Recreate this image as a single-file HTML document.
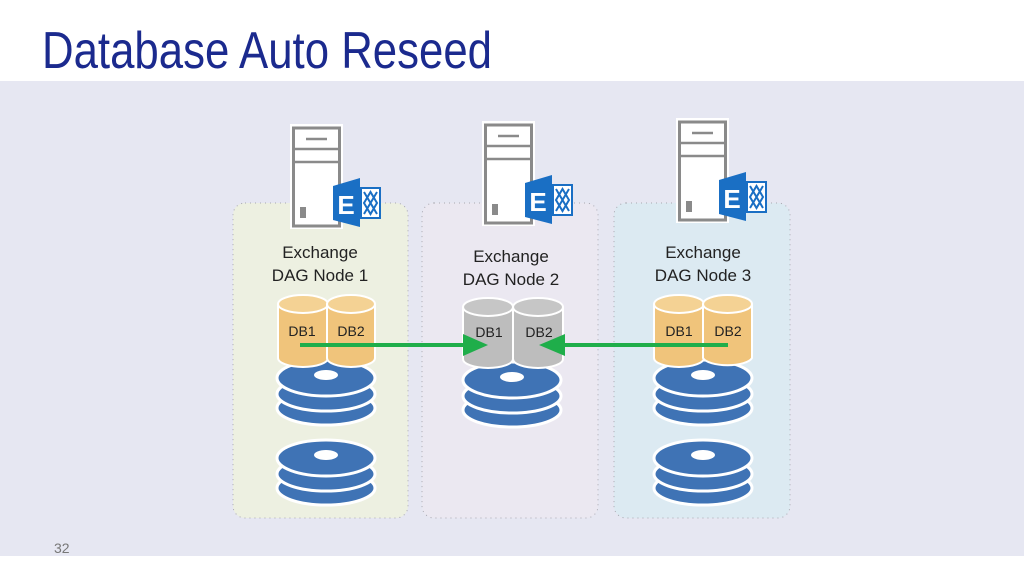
<!DOCTYPE html>
<html><head><meta charset="utf-8"><style>
html,body{margin:0;padding:0;background:#fff;}
svg{display:block;}
text{font-family:"Liberation Sans",sans-serif;}
</style></head><body>
<svg width="1024" height="576" viewBox="0 0 1024 576" xmlns="http://www.w3.org/2000/svg">
<defs>
  <g id="srv">
    <rect x="0" y="0" width="53" height="105" fill="#fff"/>
    <rect x="3.5" y="4" width="46" height="98" fill="#fff" stroke="#8a8a8a" stroke-width="3"/>
    <line x1="3.5" y1="25" x2="49.5" y2="25" stroke="#8a8a8a" stroke-width="2.5"/>
    <line x1="3.5" y1="38" x2="49.5" y2="38" stroke="#8a8a8a" stroke-width="2.5"/>
    <line x1="16" y1="15" x2="37" y2="15" stroke="#8a8a8a" stroke-width="2.5"/>
    <rect x="10" y="83" width="6" height="11" fill="#8a8a8a"/>
    <polygon points="43,62 70,54 70,103 43,96" fill="#1a6fc4"/>
    <text x="56" y="90" font-size="26" font-weight="bold" fill="#fff" text-anchor="middle">E</text>
    <rect x="71" y="64" width="19" height="30" fill="#fff" stroke="#1a6fc4" stroke-width="2"/>
    <path d="M74,68 L87,90 M87,68 L74,90 M74,79 L80.5,68 L87,79 L80.5,90 Z" stroke="#1a6fc4" stroke-width="2" fill="none"/>
  </g>
  <g id="disks">
    <ellipse cx="0" cy="30" rx="49" ry="17" fill="#3f73b5" stroke="#fff" stroke-width="3"/>
    <ellipse cx="0" cy="16" rx="49" ry="17" fill="#3f73b5" stroke="#fff" stroke-width="3"/>
    <ellipse cx="0" cy="0" rx="49" ry="18" fill="#3f73b5" stroke="#fff" stroke-width="3"/>
    <ellipse cx="0" cy="-3" rx="12" ry="5" fill="#fff"/>
  </g>
</defs>
<rect x="0" y="81" width="1024" height="475" fill="#e6e7f2"/>
<text x="42" y="68" font-size="52" fill="#1b2a8e" textLength="450" lengthAdjust="spacingAndGlyphs" style="font-weight:300">Database Auto Reseed</text>
<text x="54" y="553" font-size="14" fill="#777" >32</text>

<rect x="233" y="203" width="175" height="315" rx="12" fill="#edf0e1" stroke="#a8a8b0" stroke-width="1" stroke-dasharray="1,4"/>
<rect x="422" y="203" width="176" height="315" rx="12" fill="#ebe8f1" stroke="#a8a8b0" stroke-width="1" stroke-dasharray="1,4"/>
<rect x="614" y="203" width="176" height="315" rx="12" fill="#dceaf2" stroke="#a8a8b0" stroke-width="1" stroke-dasharray="1,4"/>

<use href="#srv" x="290" y="124"/>
<use href="#srv" x="482" y="121"/>
<use href="#srv" x="676" y="118"/>

<g font-size="17" fill="#222" text-anchor="middle">
<text x="320" y="258">Exchange</text><text x="320" y="281">DAG Node 1</text>
<text x="511" y="262">Exchange</text><text x="511" y="285">DAG Node 2</text>
<text x="703" y="258">Exchange</text><text x="703" y="281">DAG Node 3</text>
</g>

<use href="#disks" x="326" y="378"/>
<use href="#disks" x="512" y="380"/>
<use href="#disks" x="703" y="378"/>
<use href="#disks" x="326" y="458"/>
<use href="#disks" x="703" y="458"/>

<!-- cylinders node1 -->
<g stroke="#fff" stroke-width="2">
<path d="M278,304 v54 a25,9 0 0 0 50,0 v-54" fill="#f0c47b"/><ellipse cx="303" cy="304" rx="25" ry="9" fill="#f4d294"/>
<path d="M327,304 v54 a24,9 0 0 0 48,0 v-54" fill="#f0c47b"/><ellipse cx="351" cy="304" rx="24" ry="9" fill="#f4d294"/>
<path d="M463,307 v52 a25,9 0 0 0 50,0 v-52" fill="#bdbdbd"/><ellipse cx="488" cy="307" rx="25" ry="9" fill="#c6c6c6"/>
<path d="M513,307 v52 a25,9 0 0 0 50,0 v-52" fill="#bdbdbd"/><ellipse cx="538" cy="307" rx="25" ry="9" fill="#c6c6c6"/>
<path d="M654,304 v54 a25,9 0 0 0 50,0 v-54" fill="#f0c47b"/><ellipse cx="679" cy="304" rx="25" ry="9" fill="#f4d294"/>
<path d="M703,304 v54 a25,9 0 0 0 49,0 v-54" fill="#f0c47b"/><ellipse cx="727.5" cy="304" rx="24.5" ry="9" fill="#f4d294"/>
</g>
<g font-size="14" fill="#222" text-anchor="middle">
<text x="302" y="336">DB1</text><text x="351" y="336">DB2</text>
<text x="489" y="337">DB1</text><text x="539" y="337">DB2</text>
<text x="679" y="336">DB1</text><text x="728" y="336">DB2</text>
</g>

<line x1="300" y1="345" x2="468" y2="345" stroke="#1fae4a" stroke-width="4"/>
<polygon points="488,345 463,334 463,356" fill="#1fae4a"/>
<line x1="728" y1="345" x2="560" y2="345" stroke="#1fae4a" stroke-width="4"/>
<polygon points="539,345 565,334 565,356" fill="#1fae4a"/>
</svg>
</body></html>
